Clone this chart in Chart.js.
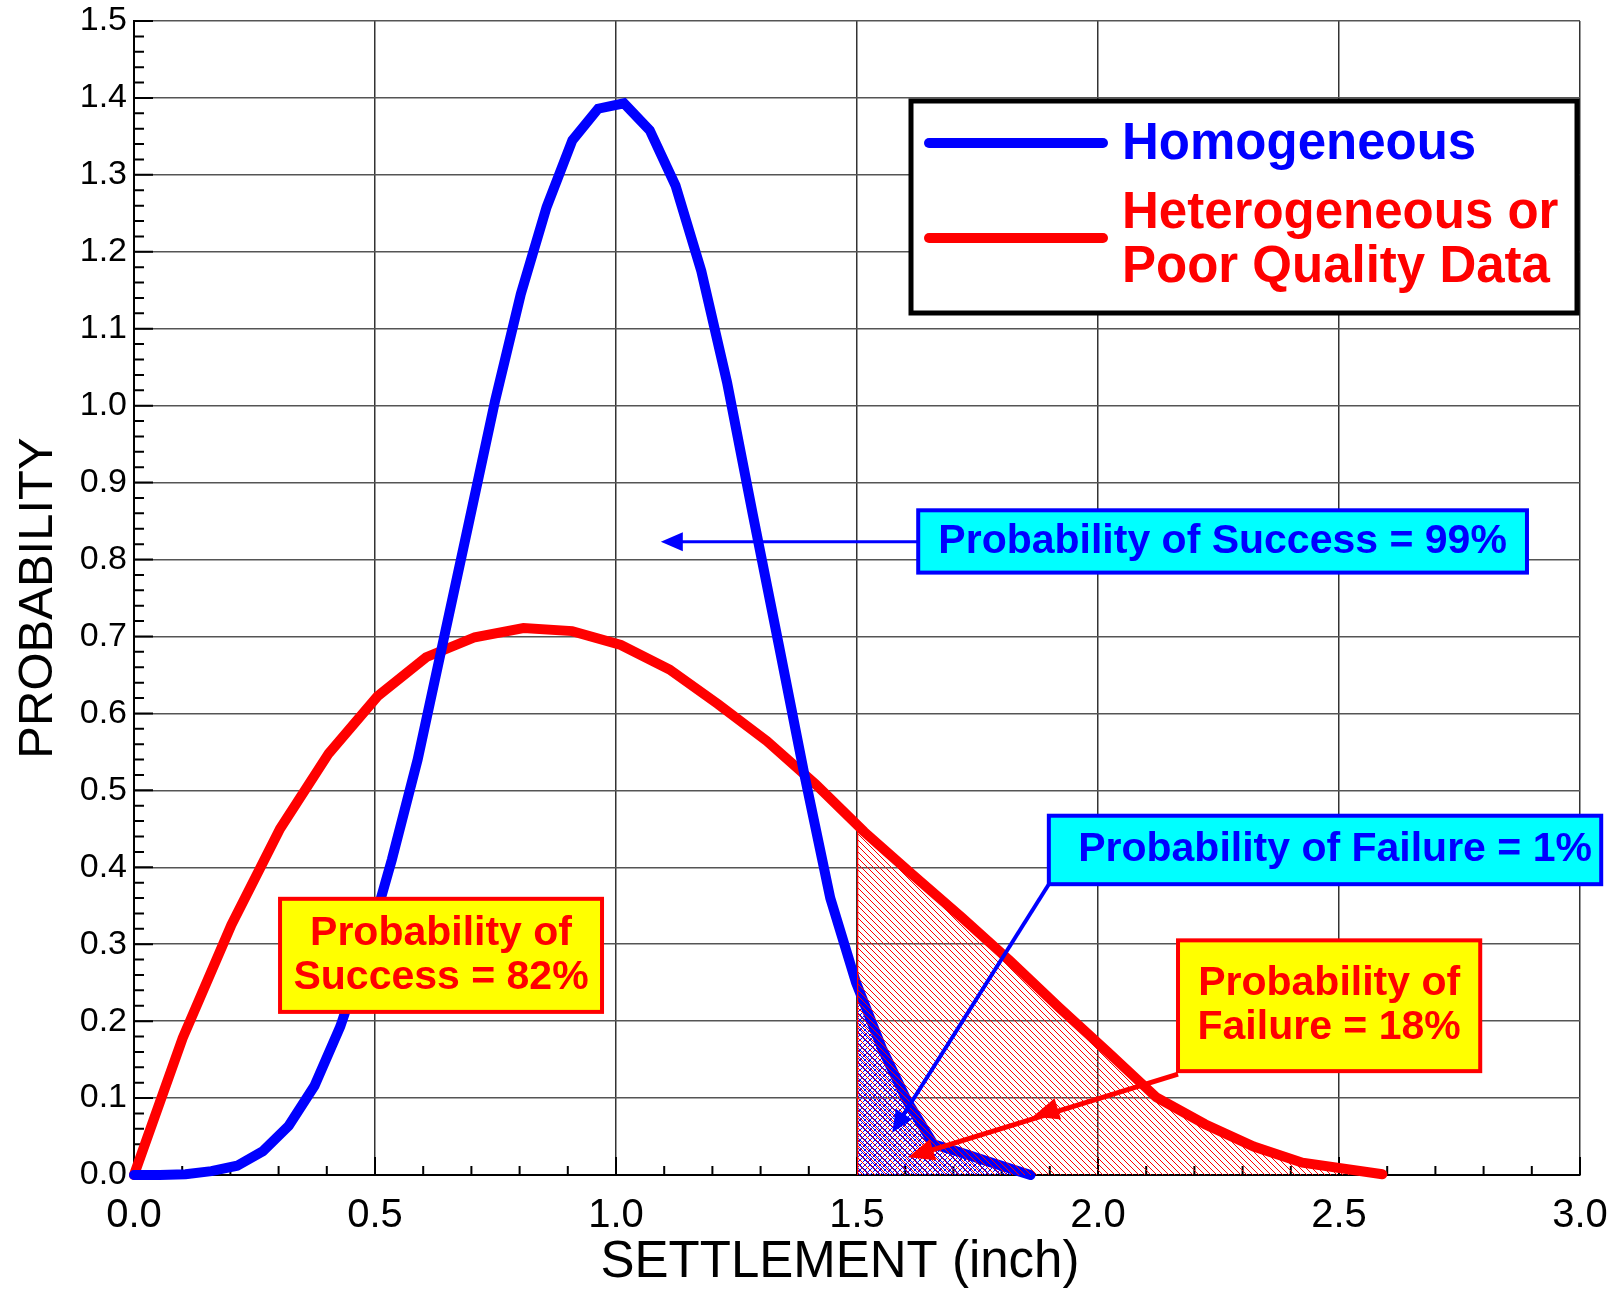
<!DOCTYPE html>
<html>
<head>
<meta charset="utf-8">
<title>Settlement probability</title>
<script src="https://cdn.jsdelivr.net/npm/chart.js@4.4.1/dist/chart.umd.min.js"></script>
<style>
  html, body { margin: 0; padding: 0; background: #fff; }
  canvas { display: block; }
</style>
</head>
<body>
<canvas id="chart" width="1619" height="1290"></canvas>
<script>
// Settlement probability curves
const homogeneousX = [0, 0.0535, 0.107, 0.1605, 0.214, 0.2675, 0.321, 0.3745, 0.428, 0.4815,
  0.535, 0.5885, 0.642, 0.6955, 0.749, 0.8025, 0.856, 0.9095, 0.963, 1.0165,
  1.07, 1.1235, 1.177, 1.2305, 1.284, 1.3375, 1.391, 1.4445, 1.498, 1.5515,
  1.605, 1.6585, 1.712, 1.7655, 1.819, 1.86]
const homogeneousY = [0, 0.000, 0.001, 0.005, 0.012, 0.031, 0.064, 0.116, 0.193, 0.292,
  0.410, 0.540, 0.695, 0.850, 1.006, 1.145, 1.258, 1.345, 1.386, 1.393,
  1.358, 1.286, 1.175, 1.030, 0.858, 0.690, 0.520, 0.360, 0.250, 0.165,
  0.095, 0.040, 0.030, 0.019, 0.008, 0.000]

const heterogeneousX = [0, 0.101, 0.202, 0.303, 0.404, 0.505, 0.606, 0.707, 0.808, 0.909,
  1.010, 1.111, 1.212, 1.313, 1.414, 1.515, 1.616, 1.717, 1.818, 1.919,
  2.020, 2.121, 2.222, 2.323, 2.424, 2.59]
const heterogeneousY = [0, 0.178, 0.325, 0.450, 0.548, 0.622, 0.673, 0.699, 0.711, 0.707,
  0.689, 0.657, 0.612, 0.564, 0.508, 0.446, 0.390, 0.335, 0.278, 0.218,
  0.160, 0.101, 0.066, 0.037, 0.016, 0.001]

const seriesLabels = ['Homogeneous', 'Heterogeneous or Poor Quality Data']
const xTicks = [0, 0.5, 1.0, 1.5, 2.0, 2.5, 3.0]
const yTicks = [0, 0.1, 0.2, 0.3, 0.4, 0.5, 0.6, 0.7, 0.8, 0.9, 1.0, 1.1, 1.2, 1.3, 1.4, 1.5]
const failureLimit = 1.5

const BLUE = '#0000FF'
const RED = '#FF0000'
const FONT = '"Liberation Sans", Arial, Helvetica, sans-serif'

// Call-out boxes and arrows, anchored in data units
const notes = [
  { lines: ['Probability of Success = 99%'], box: [1.627, 0.864, 2.890, 0.783],
    fill: '#00FFFF', color: BLUE, dx: 0 },
  { lines: ['Probability of Failure = 1%'], box: [1.898, 0.467, 3.044, 0.378],
    fill: '#00FFFF', color: BLUE, dx: 10 },
  { lines: ['Probability of', 'Success = 82%'], box: [0.303, 0.359, 0.971, 0.212],
    fill: '#FFFF00', color: RED, dx: 0 },
  { lines: ['Probability of', 'Failure = 18%'], box: [2.166, 0.305, 2.793, 0.135],
    fill: '#FFFF00', color: RED, dx: 0 }
]
const arrows = [
  { from: [1.627, 0.823], to: [1.093, 0.823], heads: [[1.093, 0.823]], color: BLUE, width: 3 },
  { from: [1.898, 0.378], to: [1.573, 0.055], heads: [[1.573, 0.055]], color: BLUE, width: 4 },
  { from: [2.166, 0.131], to: [1.606, 0.023], heads: [[1.865, 0.076], [1.606, 0.023]], color: RED, width: 5 }
]

function toPoints(xs, ys) {
  return xs.map((x, i) => ({ x: x, y: ys[i] }))
}

function hatch(ctx, color, size, cross) {
  const tile = document.createElement('canvas')
  tile.width = size
  tile.height = size
  const g = tile.getContext('2d')
  g.strokeStyle = color
  g.lineWidth = 1
  g.beginPath()
  g.moveTo(-1, -1); g.lineTo(size + 1, size + 1)
  g.moveTo(-1, size - 1); g.lineTo(1, size + 1)
  g.moveTo(size - 1, -1); g.lineTo(size + 1, 1)
  if (cross) {
    g.moveTo(-1, size + 1); g.lineTo(size + 1, -1)
    g.moveTo(-1, 1); g.lineTo(1, -1)
    g.moveTo(size - 1, size + 1); g.lineTo(size + 1, size - 1)
  }
  g.stroke()
  return ctx.createPattern(tile, 'repeat')
}

function arrowHead(ctx, tipX, tipY, ang, len, half) {
  ctx.beginPath()
  ctx.moveTo(tipX, tipY)
  ctx.lineTo(tipX - len * Math.cos(ang) + half * Math.sin(ang), tipY - len * Math.sin(ang) - half * Math.cos(ang))
  ctx.lineTo(tipX - len * Math.cos(ang) - half * Math.sin(ang), tipY - len * Math.sin(ang) + half * Math.cos(ang))
  ctx.closePath()
  ctx.fill()
}

const overlay = {
  id: 'overlay',
  beforeDatasetsDraw(chart) {
    // inward tick marks, major and minor
    const { ctx, scales: { x, y } } = chart
    ctx.save()
    ctx.strokeStyle = '#000'
    ctx.lineWidth = 2
    ctx.beginPath()
    for (let i = 0; i <= 75; i++) {
      const py = y.getPixelForValue(i / 50)
      const len = i % 5 === 0 ? 19 : 10
      ctx.moveTo(x.left, py)
      ctx.lineTo(x.left + len, py)
    }
    for (let i = 0; i <= 30; i++) {
      const px = x.getPixelForValue(i / 10)
      const len = i % 5 === 0 ? 18 : 9
      ctx.moveTo(px, y.bottom)
      ctx.lineTo(px, y.bottom - len)
    }
    ctx.stroke()
    ctx.restore()
  },
  afterDatasetsDraw(chart) {
    // hatched tails beyond the failure limit
    const { ctx, chartArea, scales: { x, y } } = chart
    const cut = x.getPixelForValue(failureLimit)
    const base = y.getPixelForValue(0)
    const region = idx => {
      const pts = chart.getDatasetMeta(idx).data
      ctx.beginPath()
      ctx.moveTo(pts[0].x, base)
      pts.forEach(p => ctx.lineTo(p.x, p.y))
      ctx.lineTo(pts[pts.length - 1].x, base)
      ctx.closePath()
    }
    ctx.save()
    ctx.beginPath()
    ctx.rect(cut, chartArea.top, chartArea.right - cut, base - chartArea.top + 1)
    ctx.clip()

    ctx.save()
    region(0)
    ctx.fillStyle = hatch(ctx, BLUE, 5, true)
    ctx.fill()
    ctx.restore()

    ctx.save()
    region(1)
    ctx.fillStyle = hatch(ctx, RED, 6, false)
    ctx.fill()
    ctx.clip()
    ctx.strokeStyle = RED
    ctx.lineWidth = 2.5
    ctx.beginPath()
    ctx.moveTo(cut, chartArea.top)
    ctx.lineTo(cut, base)
    ctx.stroke()
    ctx.restore()

    ctx.restore()
  },
  afterDraw(chart) {
    const { ctx, scales: { x, y } } = chart
    const X = v => x.getPixelForValue(v)
    const Y = v => y.getPixelForValue(v)
    ctx.save()

    // x axis title
    ctx.fillStyle = '#000'
    ctx.font = '51px ' + FONT
    ctx.textAlign = 'center'
    ctx.textBaseline = 'alphabetic'
    ctx.fillText('SETTLEMENT (inch)', 840, 1277)

    // arrows
    arrows.forEach(a => {
      const x1 = X(a.from[0]), y1 = Y(a.from[1]), x2 = X(a.to[0]), y2 = Y(a.to[1])
      const ang = Math.atan2(y2 - y1, x2 - x1)
      const len = a.width >= 5 ? 26 : 22
      const half = a.width >= 5 ? 11 : 9.5
      ctx.strokeStyle = a.color
      ctx.fillStyle = a.color
      ctx.lineWidth = a.width
      ctx.beginPath()
      ctx.moveTo(x1, y1)
      ctx.lineTo(x2 - (len - 4) * Math.cos(ang), y2 - (len - 4) * Math.sin(ang))
      ctx.stroke()
      a.heads.forEach(h => arrowHead(ctx, X(h[0]), Y(h[1]), ang, len, half))
    })

    // call-out boxes
    notes.forEach(n => {
      const l = X(n.box[0]), t = Y(n.box[1]), r = X(n.box[2]), b = Y(n.box[3])
      ctx.fillStyle = n.fill
      ctx.fillRect(l, t, r - l, b - t)
      ctx.strokeStyle = n.color
      ctx.lineWidth = 4
      ctx.strokeRect(l, t, r - l, b - t)
      ctx.fillStyle = n.color
      ctx.font = 'bold 41px ' + FONT
      ctx.textAlign = 'center'
      ctx.textBaseline = 'middle'
      const cx = (l + r) / 2 + n.dx
      const cy = (t + b) / 2
      const step = 44
      n.lines.forEach((s, i) => {
        ctx.fillText(s, cx, cy + (i - (n.lines.length - 1) / 2) * step)
      })
    })

    // legend box
    ctx.fillStyle = '#fff'
    ctx.fillRect(911, 101, 666, 212)
    ctx.strokeStyle = '#000'
    ctx.lineWidth = 5
    ctx.strokeRect(911, 101, 666, 212)
    ctx.lineCap = 'round'
    ctx.lineWidth = 10
    ctx.strokeStyle = BLUE
    ctx.beginPath(); ctx.moveTo(929, 143); ctx.lineTo(1103, 143); ctx.stroke()
    ctx.strokeStyle = RED
    ctx.beginPath(); ctx.moveTo(929, 238); ctx.lineTo(1103, 238); ctx.stroke()
    ctx.font = 'bold 51px ' + FONT
    ctx.textAlign = 'left'
    ctx.textBaseline = 'middle'
    ctx.fillStyle = BLUE
    ctx.fillText(seriesLabels[0], 1122, 145)
    ctx.fillStyle = RED
    ctx.fillText('Heterogeneous or', 1122, 214)
    ctx.fillText('Poor Quality Data', 1122, 268)

    ctx.restore()
  }
}

new Chart(document.getElementById('chart').getContext('2d'), {
  type: 'line',
  data: {
    datasets: [
      {
        label: seriesLabels[0],
        data: toPoints(homogeneousX, homogeneousY),
        borderColor: BLUE,
        borderWidth: 10,
        pointRadius: 0,
        tension: 0,
        fill: false,
        clip: false,
        borderCapStyle: 'round'
      },
      {
        label: seriesLabels[1],
        data: toPoints(heterogeneousX, heterogeneousY),
        borderColor: RED,
        borderWidth: 10,
        pointRadius: 0,
        tension: 0,
        fill: false,
        clip: false,
        borderCapStyle: 'round'
      }
    ]
  },
  options: {
    responsive: false,
    animation: false,
    devicePixelRatio: 1,
    layout: { padding: { left: 0, right: 39, top: 21, bottom: 0 } },
    plugins: {
      legend: { display: false },
      tooltip: { enabled: false }
    },
    scales: {
      x: {
        type: 'linear',
        min: 0,
        max: 3,
        afterBuildTicks: s => { s.ticks = xTicks.map(v => ({ value: v })) },
        afterFit: s => {
          s.height = 115
          s.paddingLeft = 0
          s.paddingRight = 0
        },
        ticks: {
          font: { family: FONT, size: 40 },
          color: '#000',
          padding: 17,
          maxRotation: 0,
          autoSkip: false,
          callback: v => Number(v).toFixed(1)
        },
        grid: { color: '#333', lineWidth: 1.5, drawTicks: false },
        border: { color: '#000', width: 2 }
      },
      y: {
        type: 'linear',
        min: 0,
        max: 1.5,
        afterBuildTicks: s => { s.ticks = yTicks.map(v => ({ value: v })) },
        afterFit: s => {
          s.width = 134
          s.paddingTop = 0
          s.paddingBottom = 0
        },
        ticks: {
          font: { family: FONT, size: 34 },
          color: '#000',
          padding: 7,
          autoSkip: false,
          callback: v => Number(v).toFixed(1)
        },
        grid: { color: '#555', lineWidth: 1.5, drawTicks: false },
        border: { color: '#000', width: 2 },
        title: {
          display: true,
          text: 'PROBABILITY',
          color: '#000',
          font: { family: FONT, size: 49 },
          padding: { top: 9, bottom: 0 }
        }
      }
    }
  },
  plugins: [overlay]
})
</script>
</body>
</html>
